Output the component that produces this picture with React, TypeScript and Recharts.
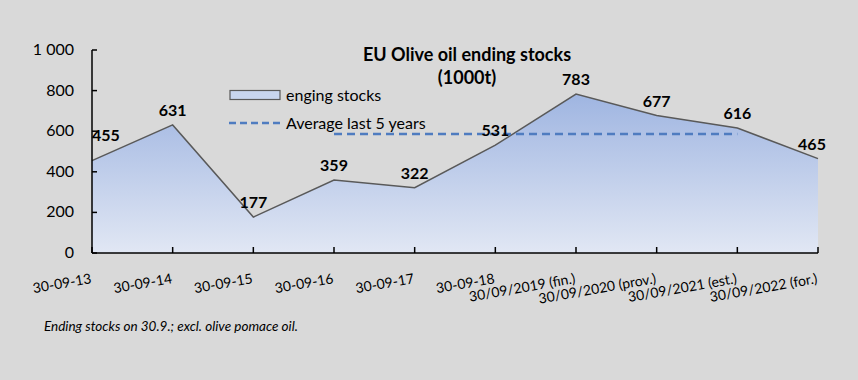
import { ComposedChart, Area, Line, XAxis, YAxis, LabelList } from "recharts";

const categories = [
  "30-09-13",
  "30-09-14",
  "30-09-15",
  "30-09-16",
  "30-09-17",
  "30-09-18",
  "30/09/2019 (fin.)",
  "30/09/2020 (prov.)",
  "30/09/2021 (est.)",
  "30/09/2022 (for.)",
];
const endingStocks = [455, 631, 177, 359, 322, 531, 783, 677, 616, 465];
const averageLast5 = [null, null, null, 586, 586, 586, 586, 586, 586, null];
const yTicks = [0, 200, 400, 600, 800, 1000];

const data = categories.map((c, i) => ({ name: c, stocks: endingStocks[i], avg: averageLast5[i] }));

const FONT = "Lato, 'Open Sans', sans-serif";
const fmt = (v: number) => String(v).replace(/\B(?=(\d{3})+(?!\d))/g, " ");

function XTick({ x, y, payload }: any) {
  return (
    <g>
      <line x1={x} y1={y} x2={x} y2={y - 6} stroke="#000" strokeWidth={1.5} />
      <text x={x} y={y + 30} transform={`rotate(-10 ${x} ${y + 30})`} textAnchor="end" fontSize={14} fill="#000" fontFamily={FONT}>
        {payload.value}
      </text>
    </g>
  );
}

function YTick({ x, y, payload }: any) {
  return (
    <g>
      <line x1={x} y1={y} x2={x + 5} y2={y} stroke="#000" strokeWidth={1.5} />
      <text x={x - 18} y={y} dy={5} textAnchor="end" fontSize={16} fill="#000" fontFamily={FONT}>
        {fmt(payload.value)}
      </text>
    </g>
  );
}

function ValueLabel({ x, y, value, index }: any) {
  const first = index === 0;
  const last = index === endingStocks.length - 1;
  return (
    <text
      x={last ? x - 6 : x}
      y={first ? y - 20 : y - 9}
      textAnchor={first ? "start" : "middle"}
      fontSize={16}
      fontWeight="bold"
      fill="#000"
      fontFamily={FONT}
    >
      {value}
    </text>
  );
}

function LegendBox() {
  return (
    <div style={{ position: "absolute", left: 229, top: 81, fontFamily: FONT, fontSize: 16, color: "#000", lineHeight: "28px" }}>
      <div style={{ display: "flex", alignItems: "center" }}>
        <svg width={57} height={12}>
          <rect x={1} y={1.5} width={50} height={9} fill="#c8d5ee" stroke="#595959" strokeWidth={1.2} />
        </svg>
        <span>enging stocks</span>
      </div>
      <div style={{ display: "flex", alignItems: "center" }}>
        <svg width={57} height={12}>
          <line x1={0} y1={6} x2={51} y2={6} stroke="#4f7cc0" strokeWidth={2.5} strokeDasharray="7 4" />
        </svg>
        <span>Average last 5 years</span>
      </div>
    </div>
  );
}

export default function App() {
  return (
    <div style={{ position: "absolute", left: 0, top: 0, width: 858, height: 380, background: "#d9d9d9", fontFamily: FONT }}>
      <ComposedChart width={858} height={380} data={data} margin={{ top: 50, right: 40, left: 0, bottom: 0 }}>
        <defs>
          <linearGradient id="stockFill" x1="0" y1="0" x2="0" y2="1">
            <stop offset="0%" stopColor="#9fb5e1" />
            <stop offset="100%" stopColor="#e1e7f4" />
          </linearGradient>
        </defs>
        <XAxis dataKey="name" interval={0} height={127} tickSize={0} tickMargin={0} tick={<XTick />} axisLine={{ stroke: "#000", strokeWidth: 1.5 }} />
        <YAxis width={92} domain={[0, 1000]} ticks={yTicks} tickSize={0} tickMargin={0} tick={<YTick />} axisLine={{ stroke: "#000", strokeWidth: 1.5 }} />
        <Area
          dataKey="stocks"
          type="linear"
          stroke="#595959"
          strokeWidth={1.5}
          fill="url(#stockFill)"
          fillOpacity={1}
          isAnimationActive={false}
        >
          <LabelList dataKey="stocks" content={<ValueLabel />} />
        </Area>
        <Line
          dataKey="avg"
          type="linear"
          stroke="#4f7cc0"
          strokeWidth={2.5}
          strokeDasharray="8 5"
          dot={false}
          activeDot={false}
          isAnimationActive={false}
        />
      </ComposedChart>
      <div style={{ position: "absolute", left: 467, top: 43, transform: "translateX(-50%)", textAlign: "center", fontWeight: "bold", fontSize: 18, lineHeight: "23px", whiteSpace: "nowrap" }}>
        EU Olive oil ending stocks
        <br />
        (1000t)
      </div>
      <LegendBox />
      <div style={{ position: "absolute", left: 44, top: 318, fontStyle: "italic", fontSize: 13.5 }}>
        Ending stocks on 30.9.; excl. olive pomace oil.
      </div>
    </div>
  );
}
